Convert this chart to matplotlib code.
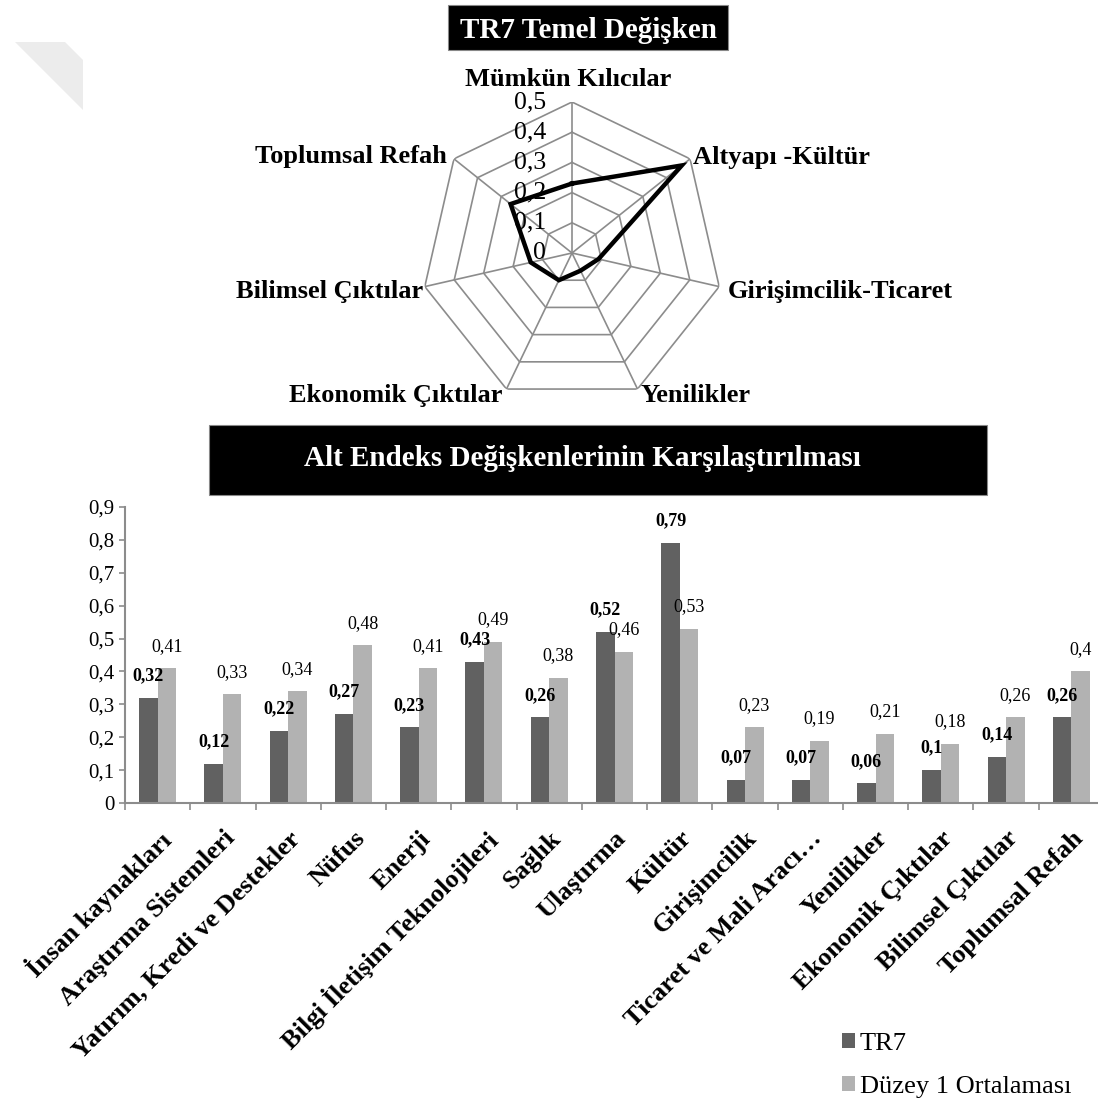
import numpy as np
import matplotlib
matplotlib.use("Agg")
import matplotlib.pyplot as plt
from matplotlib.patches import Rectangle, Polygon
from matplotlib.ticker import FixedLocator, FuncFormatter
from matplotlib.transforms import ScaledTranslation

plt.rcParams['font.family'] = ['Liberation Serif', 'DejaVu Serif']

# radar: TR7 main variables
radar_names = ["Mümkün Kılıcılar", "Altyapı -Kültür", "Girişimcilik-Ticaret", "Yenilikler",
               "Ekonomik Çıktılar", "Bilimsel Çıktılar", "Toplumsal Refah"]
radar_tr7 = [0.23, 0.465, 0.09, 0.065, 0.10, 0.14, 0.26]
radar_ticks = [0, 0.1, 0.2, 0.3, 0.4, 0.5]

# bars: sub-index variables
categories = ["İnsan kaynakları", "Araştırma Sistemleri", "Yatırım, Kredi ve Destekler", "Nüfus",
              "Enerji", "Bilgi İletişim Teknolojileri", "Sağlık", "Ulaştırma", "Kültür",
              "Girişimcilik", "Ticaret ve Mali Aracı…", "Yenilikler", "Ekonomik Çıktılar",
              "Bilimsel Çıktılar", "Toplumsal Refah"]
tr7 = [0.32, 0.12, 0.22, 0.27, 0.23, 0.43, 0.26, 0.52, 0.79, 0.07, 0.07, 0.06, 0.10, 0.14, 0.26]
duzey1 = [0.41, 0.33, 0.34, 0.48, 0.41, 0.49, 0.38, 0.46, 0.53, 0.23, 0.19, 0.21, 0.18, 0.26, 0.40]
bar_ticks = [0, 0.1, 0.2, 0.3, 0.4, 0.5, 0.6, 0.7, 0.8, 0.9]

DARK = '#616161'
LIGHT = '#b2b2b2'
GRID = '#8c8c8c'
W = H = 1098


def fmt(v):
    return f"{v:g}".replace('.', ',')


def px(x, y):
    # pixel position (from top-left) -> figure fraction
    return x / W, 1 - y / H


fig = plt.figure(figsize=(10.98, 10.98), dpi=100)

# faint corner mark
fig.patches.append(Polygon([px(15, 42), px(65, 42), px(83, 60), px(83, 110)],
                           closed=True, transform=fig.transFigure,
                           facecolor='#ececec', edgecolor='none'))

# title boxes
x0, y0 = px(448, 50)
fig.patches.append(Rectangle((x0, y0), 280 / W, 45 / H, transform=fig.transFigure,
                             facecolor='black', edgecolor='#888888', lw=0.8))
fig.text(*px(588, 30), "TR7 Temel Değişken", color='white', fontsize=21,
         fontweight='bold', ha='center', va='center')
x0, y0 = px(209, 495)
fig.patches.append(Rectangle((x0, y0), 778 / W, 70 / H, transform=fig.transFigure,
                             facecolor='black', edgecolor='#888888', lw=0.8))
fig.text(*px(582, 459), "Alt Endeks Değişkenlerinin Karşılaştırılması", color='white',
         fontsize=21, fontweight='bold', ha='center', va='center')

# ---- radar ----
cx, cy, rad = 572, 253, 151
rx, ry = px(cx - rad, cy + rad)
ax1 = fig.add_axes([rx, ry, 2 * rad / W, 2 * rad / H], projection='polar')
ax1.set_theta_offset(np.pi / 2)
ax1.set_theta_direction(-1)
ax1.set_ylim(0, 0.5)
ax1.grid(False)
ax1.spines['polar'].set_visible(False)
ax1.set_xticks([])
ax1.set_yticks([])
ax1.patch.set_alpha(0)

n = len(radar_names)
theta = np.arange(n) * 2 * np.pi / n
theta_c = np.append(theta, theta[0])
for r in radar_ticks[1:]:
    ax1.plot(theta_c, [r] * (n + 1), color=GRID, lw=1.2, zorder=1)
for t in theta:
    ax1.plot([t, t], [0, 0.5], color=GRID, lw=1.2, zorder=1)
for r in radar_ticks:
    ax1.annotate(fmt(r), (0, r), xytext=(-26, 0), textcoords='offset pixels',
                 ha='right', va='center', fontsize=18.5, zorder=2)
ax1.plot(theta_c, radar_tr7 + radar_tr7[:1], color='black', lw=3.2, zorder=3,
         solid_joinstyle='miter')

label_pos = [((-4, 22), 'center'), ((3, 1), 'left'), ((9, -5), 'left'), ((3, -6), 'left'),
             ((-4, -6), 'right'), ((-2, -5), 'right'), ((-7, 2), 'right')]
for t, name, (off, ha) in zip(theta, radar_names, label_pos):
    ax1.annotate(name, (t, 0.5), xytext=off, textcoords='offset pixels',
                 ha=ha, va='center', fontsize=19, fontweight='bold')

# ---- bars ----
bl, bb = px(125, 803)
ax2 = fig.add_axes([bl, bb, (1104 - 125) / W, 296 / H])
x = np.arange(len(categories))
bw = 0.283
b1 = ax2.bar(x - bw / 2, tr7, bw, color=DARK, label='TR7')
b2 = ax2.bar(x + bw / 2, duzey1, bw, color=LIGHT, label='Düzey 1 Ortalaması')
for xi, v in zip(x, tr7):
    ax2.annotate(fmt(v), (xi - bw / 2, v), xytext=(0, 22), textcoords='offset pixels',
                 ha='center', va='center', fontsize=13, fontweight='bold')
for xi, v in zip(x, duzey1):
    ax2.annotate(fmt(v), (xi + bw / 2, v), xytext=(0, 22), textcoords='offset pixels',
                 ha='center', va='center', fontsize=13)

ax2.set_xlim(-0.5, len(categories) - 0.5)
ax2.set_ylim(0, 0.9)
ax2.set_yticks(bar_ticks)
ax2.yaxis.set_major_formatter(FuncFormatter(lambda v, p: fmt(round(v, 2))))
ax2.set_xticks(x)
ax2.set_xticklabels(categories, rotation=45, ha='right', va='top',
                    rotation_mode='anchor', fontsize=19, fontweight='bold')
shift = ScaledTranslation(-10 / 100, 0, fig.dpi_scale_trans)
for lab in ax2.get_xticklabels():
    lab.set_transform(lab.get_transform() + shift)
ax2.xaxis.set_minor_locator(FixedLocator(np.arange(len(categories) + 1) - 0.5))
ax2.tick_params(axis='x', which='major', length=0, pad=17)
ax2.tick_params(axis='x', which='minor', length=5, width=1.2, color=GRID, direction='out')
ax2.tick_params(axis='y', length=4.5, width=1.2, color=GRID, labelsize=15, pad=3)
for s in ['top', 'right']:
    ax2.spines[s].set_visible(False)
for s in ['left', 'bottom']:
    ax2.spines[s].set_color(GRID)
    ax2.spines[s].set_linewidth(1.5)
ax2.patch.set_alpha(0)

lx, ly = px(842, 1033)
fig.legend(handles=[b1, b2], loc='upper left', bbox_to_anchor=(lx, ly), frameon=False,
           fontsize=19, handlelength=0.48, handleheight=0.48, handletextpad=0.2,
           labelspacing=0.8, borderpad=0, borderaxespad=0)

fig.savefig('out.png', dpi=100)
